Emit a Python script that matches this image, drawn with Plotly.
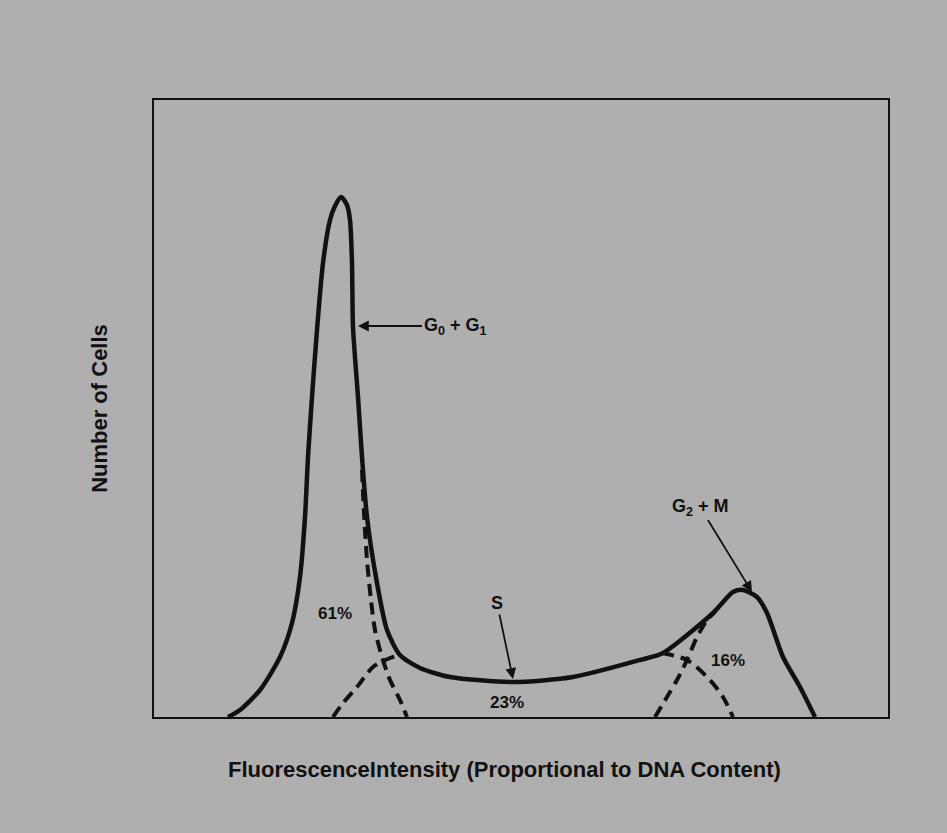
import plotly.graph_objects as go

# Data (x: fluorescence channel, y: number of cells, arbitrary units)
total_x = [74, 86, 106, 126, 138, 146, 151, 154, 158, 163, 169, 176, 181, 187, 193, 196, 198, 199,
           204, 208, 213, 223, 233, 246, 266, 296, 359, 419, 486, 509, 559, 579, 589, 603, 613,
           629, 646, 661]
total_y = [0, 7, 27, 60, 94, 140, 200, 260, 320, 387, 454, 497, 511, 520, 512, 497, 454, 390,
           320, 260, 200, 134, 87, 62, 49, 40, 35, 40, 57, 64, 104, 125, 127, 120, 104,
           60, 30, 0]

g01_tail_x = [208, 210, 213, 217, 221, 228, 236, 246, 253]
g01_tail_y = [247, 204, 157, 117, 87, 60, 37, 17, 0]

s_left_x = [179, 189, 203, 219, 236, 246]
s_left_y = [0, 14, 30, 50, 59, 62]
s_right_x = [508, 533, 556, 569, 579]
s_right_y = [64, 57, 37, 20, 0]

g2m_left_x = [501, 513, 523, 533, 543, 553, 561]
g2m_left_y = [0, 20, 37, 57, 80, 97, 105]

phase_labels = ["61%", "23%", "16%"]
phase_label_x = [181, 353, 574]
phase_label_y = [104, 15, 57]

phase_names = ["G<sub>0</sub> + G<sub>1</sub>", "S", "G<sub>2</sub> + M"]
name_x = [301, 343, 546]
name_y = [391, 114, 210]
point_x = [204, 359, 598]
point_y = [391, 38, 125]

x_title = "FluorescenceIntensity (Proportional to DNA Content)"
y_title = "Number of Cells"

BG = "#afafaf"
INK = "#111111"
FONT = "Liberation Sans, Arial, sans-serif"
dash = "12px,7px"

fig = go.Figure()
for xs, ys in [(g01_tail_x, g01_tail_y), (s_left_x, s_left_y), (s_right_x, s_right_y),
               (g2m_left_x, g2m_left_y)]:
    fig.add_trace(go.Scatter(x=xs, y=ys, mode="lines",
                             line=dict(color=INK, width=4, dash=dash, shape="spline", smoothing=0.8),
                             hoverinfo="skip", showlegend=False))
fig.add_trace(go.Scatter(x=total_x, y=total_y, mode="lines",
                         line=dict(color=INK, width=4.5, shape="spline", smoothing=0.7),
                         showlegend=False))

ann = []
for t, x, y in zip(phase_labels, phase_label_x, phase_label_y):
    ann.append(dict(x=x, y=y, text="<b>%s</b>" % t, showarrow=False,
                    font=dict(size=17, color=INK, family=FONT)))

for t, tx, ty, px, py in zip(phase_names, name_x, name_y, point_x, point_y):
    ann.append(dict(x=px, y=py, ax=tx, ay=ty, axref="x", ayref="y", text="<b>%s</b>" % t,
                    showarrow=True, arrowhead=2, arrowsize=1.2, arrowwidth=1.8, arrowcolor=INK,
                    font=dict(size=18, color=INK, family=FONT)))

# x-axis title (placed slightly left of the plot centre, as in the original)
ann.append(dict(xref="paper", yref="paper", x=0.478, y=-0.085, yanchor="middle",
                text="<b>%s</b>" % x_title, showarrow=False,
                font=dict(size=22, color=INK, family=FONT)))

fig.update_layout(
    width=947, height=833,
    paper_bgcolor=BG, plot_bgcolor=BG,
    margin=dict(l=154, r=59, t=100, b=116),
    font=dict(family=FONT, color=INK),
    annotations=ann,
    showlegend=False,
    xaxis=dict(range=[0, 734], showgrid=False, zeroline=False, showticklabels=False, ticks="",
               showline=True, linecolor=INK, linewidth=2, mirror=True),
    yaxis=dict(range=[0, 617], showgrid=False, zeroline=False, showticklabels=False, ticks="",
               showline=True, linecolor=INK, linewidth=2, mirror=True,
               title=dict(text="<b>%s</b>" % y_title,
                          font=dict(size=22, color=INK, family=FONT), standoff=38)),
)

fig.write_html("out.html", config={"displayModeBar": False},
               post_script="document.body.style.margin='0';document.body.style.background='%s';" % BG)
